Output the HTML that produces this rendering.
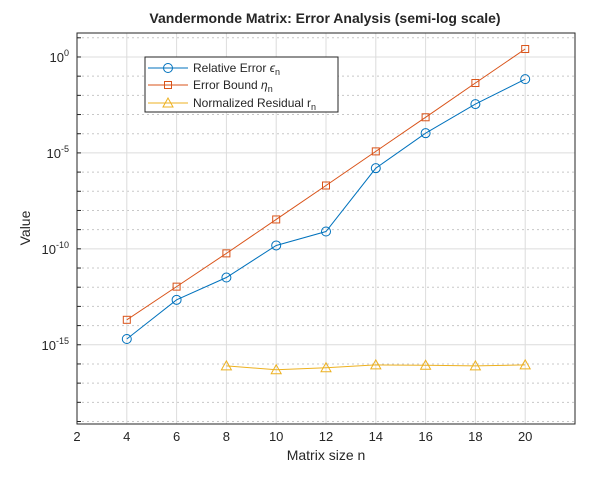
<!DOCTYPE html>
<html><head><meta charset="utf-8"><style>
body{margin:0;background:#fff;font-family:"Liberation Sans",sans-serif}
svg text{font-family:"Liberation Sans",sans-serif;fill:#262626}
</style></head><body>
<svg id="c" width="610" height="472"></svg>
<script>
const ns="http://www.w3.org/2000/svg";
const nVals=[4,6,8,10,12,14,16,18,20];
const relErr=[2.0e-15,2.2e-13,3.2e-12,1.5e-10,8e-10,1.6e-6,1.07e-4,3.5e-3,7e-2];
const errBound=[2.0e-14,1.07e-12,5.8e-11,3.4e-9,2.0e-7,1.2e-5,7.2e-4,4.4e-2,2.6e0];
const resN=[8,10,12,14,16,18,20];
const resid=[7.9e-17,5.0e-17,6.3e-17,8.9e-17,8.5e-17,7.9e-17,8.9e-17];
const xTicks=[2,4,6,8,10,12,14,16,18,20];
const yMajor=[0,-5,-10,-15];
const L=77,R=575,T=33,B=424,xmin=2,xmax=22,lymin=-19.13,lymax=1.25;
const sx=v=>L+(v-xmin)/(xmax-xmin)*(R-L);
const sy=v=>B-(Math.log10(v)-lymin)/(lymax-lymin)*(B-T);
const sye=e=>B-(e-lymin)/(lymax-lymin)*(B-T);
const svg=document.getElementById('c');
function el(t,a,p){const e=document.createElementNS(ns,t);for(const k in a)e.setAttribute(k,a[k]);(p||svg).appendChild(e);return e;}
el('rect',{x:L,y:T,width:R-L,height:B-T,fill:'#fff'});
// grid
for(let e=-19;e<=1;e++){
 const y=sye(e);const major=e%5===0;
 const g=el('line',{x1:L,x2:R,y1:y,y2:y,stroke:major?'#dcdcdc':'#c8c8c8','stroke-dasharray':major?'':'2,3'});
 
 
 const tk=el('line',{x1:L,x2:L+4,y1:y,y2:y,stroke:'#262626'});
 
 
}
xTicks.forEach(v=>{
 const x=sx(v);
 const g=el('line',{x1:x,x2:x,y1:T,y2:B,stroke:'#dcdcdc'});
 
 
 const t=el('text',{x:x,y:441,'font-size':13,'text-anchor':'middle'});t.textContent=v;
 
 
});
yMajor.forEach(e=>{
 const t=el('text',{x:L-8,y:sye(e)+5,'font-size':13,'text-anchor':'end'});
 t.innerHTML='10<tspan dy="-6" font-size="9">'+e+'</tspan>';
 
 
});
const ax=el('rect',{x:L,y:T,width:R-L,height:B-T,fill:'none',stroke:'#262626'});


function series(xs,ys,color,marker,name){
 const g=el('g',{});
 
 
 el('polyline',{points:xs.map((x,i)=>sx(x)+','+sy(ys[i])).join(' '),fill:'none',stroke:color,'stroke-width':1},g);
 xs.forEach((x,i)=>{const px=sx(x),py=sy(ys[i]);let m;
  if(marker==='o')m=el('circle',{cx:px,cy:py,r:4.5,fill:'none',stroke:color},g);
  else if(marker==='s')m=el('rect',{x:px-3.5,y:py-3.5,width:7,height:7,fill:'none',stroke:color},g);
  else m=el('polygon',{points:`${px},${py-5} ${px-5},${py+4} ${px+5},${py+4}`,fill:'none',stroke:color},g);
  
  
 });
}
series(nVals,errBound,'#d95319','s','error-bound-series');
series(nVals,relErr,'#0072bd','o','relative-error-series');
series(resN,resid,'#edb120','t','residual-series');
</script>
<svg style="position:absolute;left:0;top:0" width="610" height="472">
<text x="325" y="23" font-size="14" font-weight="bold" text-anchor="middle">Vandermonde Matrix: Error Analysis (semi-log scale)</text>
<text x="326" y="460" font-size="14" text-anchor="middle">Matrix size n</text>
<text x="30" y="228" font-size="14" text-anchor="middle" transform="rotate(-90 30 228)">Value</text>
<g>
<rect x="145" y="57" width="193" height="55" fill="#fff" stroke="#262626"/>
<g>
<line x1="148" x2="188" y1="68" y2="68" stroke="#0072bd"/><circle cx="168" cy="68" r="4.5" fill="none" stroke="#0072bd"/>
<text x="193" y="72" font-size="12">Relative  Error  <tspan font-style="italic">ϵ</tspan><tspan font-size="9" dy="3">n</tspan></text></g>
<g>
<line x1="148" x2="188" y1="85" y2="85" stroke="#d95319"/><rect x="164.5" y="81.5" width="7" height="7" fill="none" stroke="#d95319"/>
<text x="193" y="89" font-size="12">Error  Bound  <tspan font-style="italic">η</tspan><tspan font-size="9" dy="3">n</tspan></text></g>
<g>
<line x1="148" x2="188" y1="103" y2="103" stroke="#edb120"/><polygon points="168,98 163,107 173,107" fill="none" stroke="#edb120"/>
<text x="193" y="107" font-size="12">Normalized  Residual  r<tspan font-size="9" dy="3">n</tspan></text></g>
</g>
</svg>
</body></html>
